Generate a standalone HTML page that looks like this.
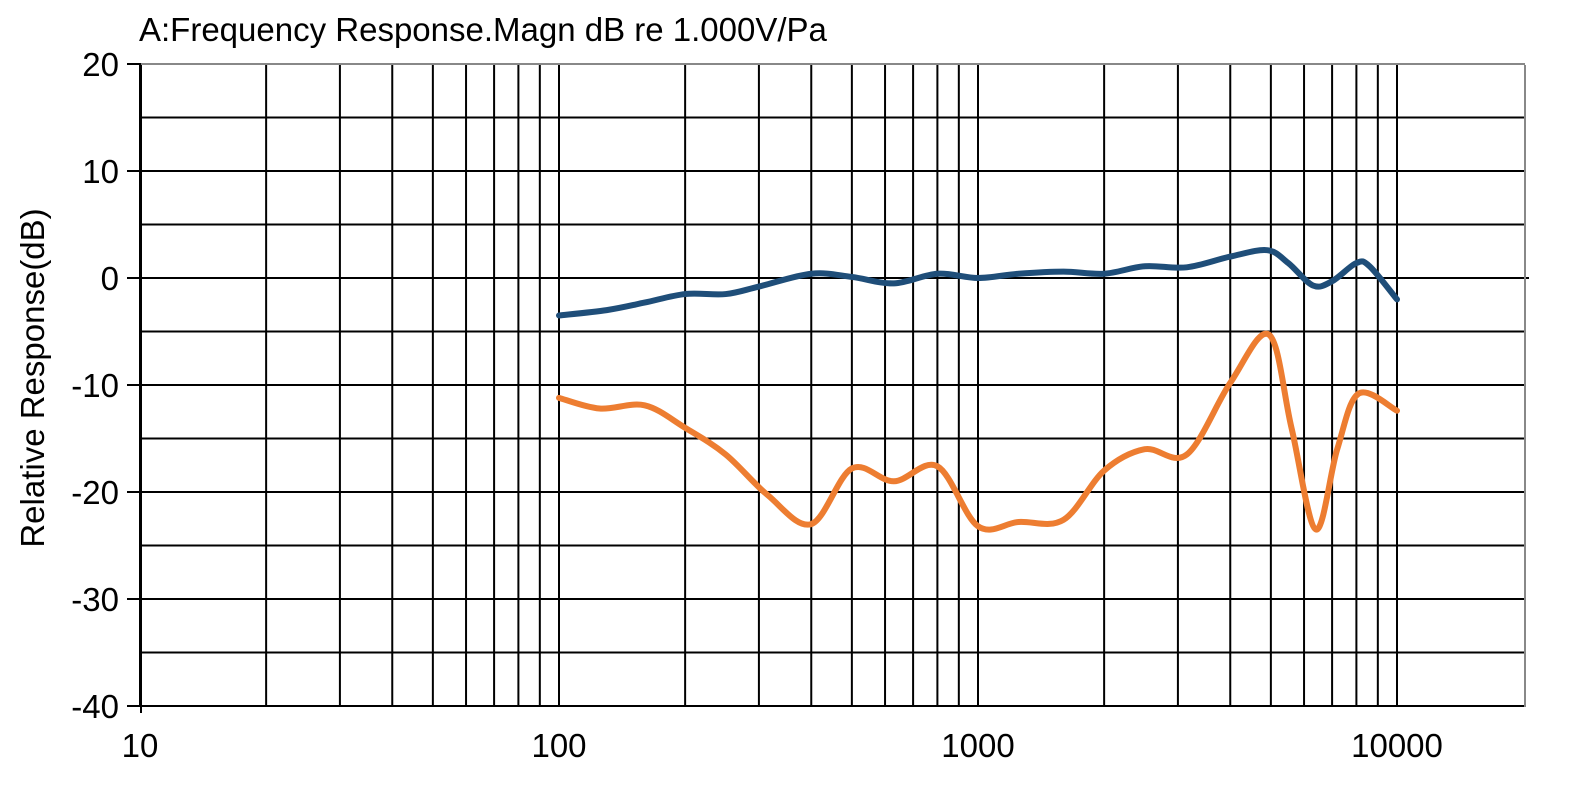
<!DOCTYPE html>
<html><head><meta charset="utf-8"><style>
body{margin:0;background:#fff;}
svg{display:block;font-family:"Liberation Sans",Arial,sans-serif;}
</style></head><body>
<svg id="s" width="1577" height="789" viewBox="0 0 1577 789" xmlns="http://www.w3.org/2000/svg">
<text x="139" y="41" font-size="33" fill="#000">A:Frequency Response.Magn dB re 1.000V/Pa</text>
<g id="grid" stroke="#000" stroke-width="2"></g>
<g id="labels" font-size="33" fill="#000"></g>
<text transform="translate(44,378) rotate(-90)" font-size="33" text-anchor="middle">Relative Response(dB)</text>
<path id="blue" fill="none" stroke="#1f4e79" stroke-width="6" stroke-linecap="round" stroke-linejoin="round"/>
<path id="orange" fill="none" stroke="#ed7d31" stroke-width="6" stroke-linecap="round" stroke-linejoin="round"/>
</svg>
<script>
var L=141,R=1525,T=65,B=707;
function X(f){return 559+419*(Math.log10(f)-2);}
function Y(d){return 278-d*10.7;}
var g=document.getElementById('grid'),lab=document.getElementById('labels'),ns="http://www.w3.org/2000/svg";
function line(x1,y1,x2,y2,c){var l=document.createElementNS(ns,'line');l.setAttribute('x1',x1);l.setAttribute('y1',y1);l.setAttribute('x2',x2);l.setAttribute('y2',y2);if(c)l.setAttribute('stroke',c);g.appendChild(l);}
for(var d=-40;d<=20;d+=5){var y=Y(d);if(d==20){line(L,y,R,y,'#888');}else line(L,y,R,y);
 if(d%10==0){line(L-14,y,L,y);var t=document.createElementNS(ns,'text');t.setAttribute('x',L-22);t.setAttribute('y',y+12);t.setAttribute('text-anchor','end');t.textContent=d;lab.appendChild(t);}}
line(R,Y(0),R+4,Y(0));
[10,100,1000].forEach(function(b){for(var k=1;k<=9;k++){var x=X(b*k);line(x,T,x,B);}});
line(X(10000),T,X(10000),B);
line(L,T,L,B+6);
line(R,T,R,B,'#888');
[10,100,1000,10000].forEach(function(f){var t=document.createElementNS(ns,'text');t.setAttribute('x',X(f));t.setAttribute('y',757);t.setAttribute('text-anchor','middle');t.textContent=f;lab.appendChild(t);});
function path(pts){var p=pts.map(function(a){return [X(a[0]),Y(a[1])];});var s="M"+p[0][0]+","+p[0][1];
 for(var i=0;i<p.length-1;i++){var p0=p[i-1]||p[i],p1=p[i],p2=p[i+1],p3=p[i+2]||p2;
 var c1=[p1[0]+(p2[0]-p0[0])/6,p1[1]+(p2[1]-p0[1])/6],c2=[p2[0]-(p3[0]-p1[0])/6,p2[1]-(p3[1]-p1[1])/6];
 s+=" C"+c1+" "+c2+" "+p2;}return s;}
var blue=[[100,-3.5],[130,-3],[160,-2.3],[200,-1.5],[250,-1.5],[300,-0.8],[400,0.4],[500,0.1],[630,-0.5],[800,0.4],[1000,0],[1250,0.4],[1600,0.6],[2000,0.4],[2500,1.1],[3150,1.0],[4000,2.0],[4900,2.6],[5500,1.4],[6300,-0.7],[7000,-0.3],[8000,1.4],[8600,1.1],[10000,-2.0]];
var orange=[[100,-11.2],[125,-12.2],[160,-11.9],[200,-14],[250,-16.5],[315,-20.3],[400,-23],[500,-17.8],[630,-19],[800,-17.6],[1000,-23.2],[1250,-22.8],[1600,-22.6],[2000,-18],[2500,-16],[3150,-16.5],[4000,-9.8],[4950,-5.3],[5600,-14],[6400,-23.5],[7200,-16],[8100,-10.8],[10000,-12.4]];
document.getElementById('blue').setAttribute('d',path(blue));
document.getElementById('orange').setAttribute('d',path(orange));
</script>
</body></html>
